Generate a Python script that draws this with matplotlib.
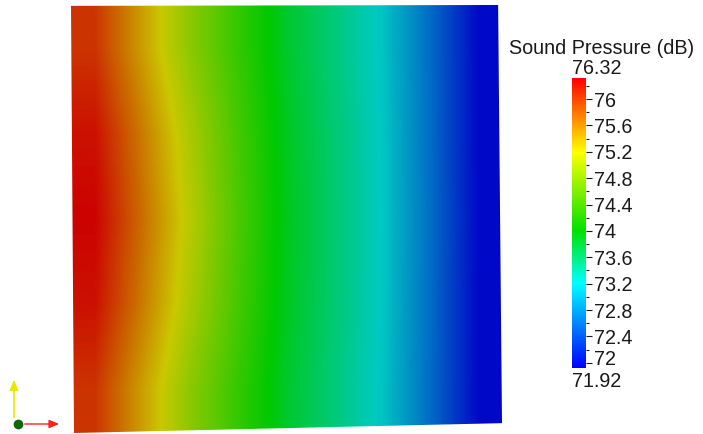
import numpy as np
import matplotlib
matplotlib.use("Agg")
import matplotlib.pyplot as plt
from matplotlib.colors import LinearSegmentedColormap, Normalize
from matplotlib.patches import Polygon
from matplotlib.ticker import MultipleLocator
from matplotlib.transforms import offset_copy
import matplotlib.cm as cm

plt.rcParams['font.family'] = ['Liberation Sans', 'DejaVu Sans']

# sound pressure level (dB) sampled on the plate, rows top -> bottom, columns left -> right
spl_top = [76.02, 75.42, 74.82, 74.30, 73.82, 73.50, 73.16, 72.60, 71.98]
spl_upper = [76.22, 75.62, 75.00, 74.40, 73.87, 73.53, 73.18, 72.61, 71.98]
spl_mid = [76.30, 75.70, 75.08, 74.44, 73.89, 73.54, 73.19, 72.62, 71.98]
spl_lower = [76.22, 75.62, 75.00, 74.40, 73.87, 73.53, 73.18, 72.61, 71.98]
spl_bottom = [76.02, 75.42, 74.82, 74.30, 73.82, 73.50, 73.16, 72.60, 71.98]

vmin, vmax = 71.92, 76.32
cbar_ticks = [72.0, 72.4, 72.8, 73.2, 73.6, 74.0, 74.4, 74.8, 75.2, 75.6, 76.0]
cbar_title = "Sound Pressure (dB)"

# rainbow lookup table: blue -> cyan -> green -> yellow -> red
stop_vals = [71.92, 73.2, 74.0, 75.2, 76.32]
stop_rgb = [(0, 0, 255), (0, 255, 255), (0, 225, 0), (255, 255, 0), (255, 0, 0)]
# lit surface colours (darker than the legend bar)
stop_rgb_lit = [(0, 0, 200), (0, 202, 194), (0, 200, 0), (202, 200, 0), (204, 0, 0)]

pos = [(v - vmin) / (vmax - vmin) for v in stop_vals]
lut = LinearSegmentedColormap.from_list(
    "spl", list(zip(pos, [tuple(c / 255 for c in rgb) for rgb in stop_rgb])))
lut_lit = LinearSegmentedColormap.from_list(
    "spl_lit", list(zip(pos, [tuple(c / 255 for c in rgb) for rgb in stop_rgb_lit])))
norm = Normalize(vmin, vmax)

W, H = 703, 434
fig = plt.figure(figsize=(W / 100, H / 100), dpi=100)
txt = "#1a1a1a"
fs = 14.2
tick_len = 4.5
tick_pad = 1.0

# plate
ax = fig.add_axes([71 / W, 1 - 433 / H, 431 / W, 428 / H])
ax.set_xlim(0, 1)
ax.set_ylim(0, 1)
ax.axis("off")
field = np.array([spl_top, spl_upper, spl_mid, spl_lower, spl_bottom])
img = ax.imshow(field, cmap=lut_lit, norm=norm, extent=(0, 1, 0, 1),
                aspect="auto", interpolation="bilinear",
                interpolation_stage="data", origin="upper")
outline = Polygon([(0, 0.998), (0.991, 1), (1, 0.023), (0.007, 0)],
                  closed=True, transform=ax.transData, facecolor="none", edgecolor="none")
ax.add_patch(outline)
img.set_clip_path(outline)

# legend bar
cax = fig.add_axes([572 / W, 1 - 368 / H, 14 / W, 290 / H])
cb = fig.colorbar(cm.ScalarMappable(norm=norm, cmap=lut), cax=cax, ticks=cbar_ticks)
cb.outline.set_visible(False)
cb.ax.yaxis.set_minor_locator(MultipleLocator(0.2))
cb.ax.tick_params(which="major", length=tick_len, width=0.8, pad=tick_pad, labelsize=fs,
                  color=txt, labelcolor=txt)
cb.ax.tick_params(which="minor", length=2.5, width=0.8, color=txt)
# lowest label is nudged up a little so the range label fits below it
labels = ["%g" % t for t in cbar_ticks]
cb.ax.set_yticklabels([""] + labels[1:])
low_tr = offset_copy(cax.get_yaxis_transform(), fig=fig,
                     x=tick_len + tick_pad + 0.3, y=2.0, units="points")
cax.text(1.0, cbar_ticks[0], labels[0], transform=low_tr, ha="left", va="center",
         fontsize=fs, color=txt)
cax.text(0.0, 1.0, "%.2f" % vmax, transform=cax.transAxes, ha="left", va="bottom",
         fontsize=fs, color=txt)
fig.text(572 / W, 1 - 372 / H, "%.2f" % vmin, ha="left", va="top",
         fontsize=fs, color=txt)
fig.text(602 / W, 1 - 48 / H, cbar_title, ha="center", va="center", fontsize=fs, color=txt)

# orientation triad
tri = fig.add_axes([0, 0, 1, 1], facecolor="none")
tri.set_xlim(0, W)
tri.set_ylim(H, 0)
tri.axis("off")
tri.annotate("", xy=(62, 424), xytext=(22, 424),
             arrowprops=dict(arrowstyle="-|>,head_length=0.6,head_width=0.25",
                             color="#ff2020", lw=1.0))
tri.annotate("", xy=(14, 377), xytext=(14, 420),
             arrowprops=dict(arrowstyle="-|>,head_length=0.6,head_width=0.25",
                             color="#e8e800", lw=1.2))
tri.plot([18], [424], "o", color="#0a6a0a", markersize=6)

fig.savefig("out.png", dpi=100)
